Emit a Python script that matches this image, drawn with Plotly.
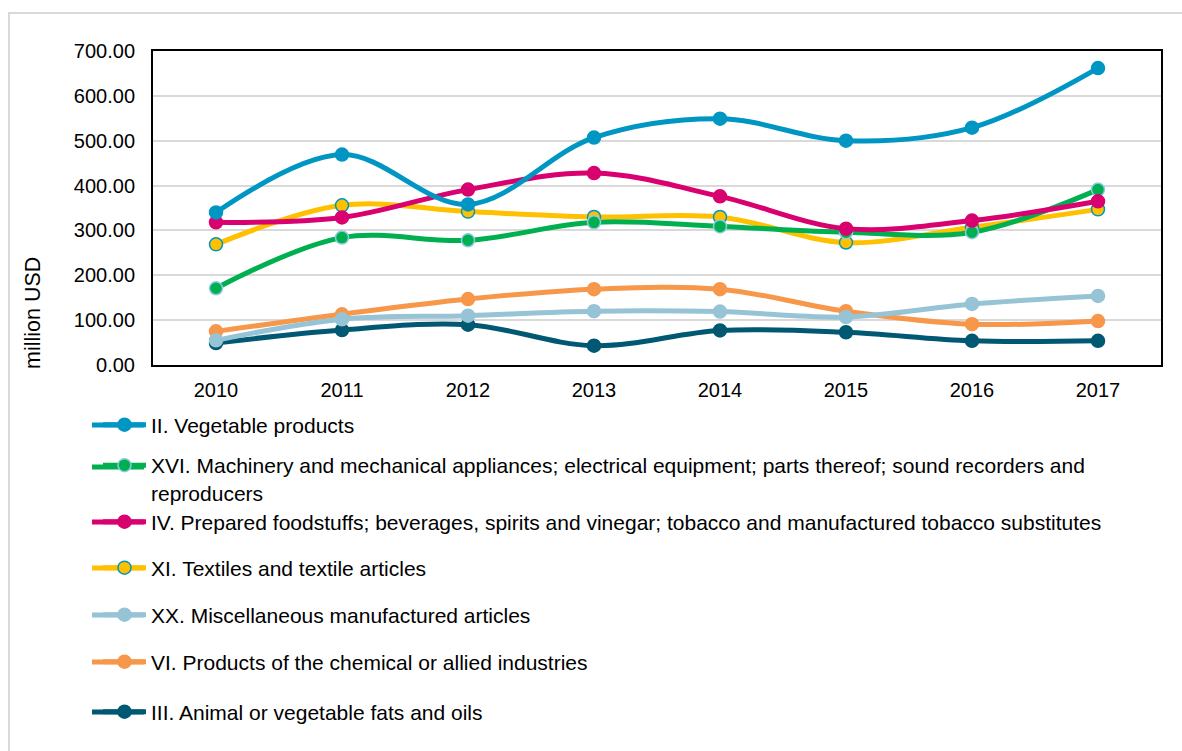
import plotly.graph_objects as go

years = ["2010", "2011", "2012", "2013", "2014", "2015", "2016", "2017"]

vegetable = [340, 469, 358, 507, 549, 500, 529, 662]
machinery = [171, 284, 278, 318, 309, 296, 296, 391]
prepared = [318, 329, 391, 428, 376, 304, 322, 365]
textiles = [269, 356, 342, 330, 330, 273, 307, 347]
misc = [55, 102, 110, 120, 119, 107, 136, 154]
chemical = [75, 113, 147, 169, 169, 120, 91, 98]
animal = [49, 78, 90, 43, 77, 73, 54, 54]

y_ticks = [0, 100, 200, 300, 400, 500, 600, 700]
y_tick_labels = ["0.00", "100.00", "200.00", "300.00", "400.00", "500.00", "600.00", "700.00"]

series = [
    ("II. Vegetable products", vegetable, "#0096C3", "#0096C3", "#0096C3"),
    ("XVI. Machinery and mechanical appliances; electrical equipment; parts thereof; sound recorders and<br>reproducers",
     machinery, "#00B050", "#00B050", "#8FC9E3"),
    ("IV. Prepared foodstuffs; beverages, spirits and vinegar; tobacco and manufactured tobacco substitutes",
     prepared, "#D9006F", "#D9006F", "#D9006F"),
    ("XI. Textiles and textile articles", textiles, "#FFC000", "#FFC000", "#0096C3"),
    ("XX. Miscellaneous manufactured articles", misc, "#97C3D6", "#97C3D6", "#97C3D6"),
    ("VI. Products of the chemical or allied industries", chemical, "#F7974A", "#F7974A", "#F7974A"),
    ("III. Animal or vegetable fats and oils", animal, "#005873", "#005873", "#005873"),
]

FONT = "Liberation Sans, Arial, sans-serif"
W, H = 1182, 751
left, right = 153, 1161
top, bottom = 51, 365
ph = bottom - top
pw = right - left

def ypaper(p):
    return (bottom - p) / ph

def xpaper(p):
    return (p - left) / pw

legend_centers = [425, 465, 522, 568, 615, 662, 712]
LEG_FONT = 21

fig = go.Figure()
draw_order = [6, 5, 4, 3, 1, 2, 0]
for i in draw_order:
    name, vals, lc, mfill, mline = series[i]
    lname = "legend" if i == 0 else f"legend{i+1}"
    fig.add_trace(go.Scatter(
        x=years, y=vals, name=name, mode="lines+markers",
        line=dict(color=lc, width=5, shape="spline", smoothing=1.0),
        marker=dict(size=13, color=mfill, line=dict(color=mline, width=1.5)),
        legend=lname,
    ))

layout_legends = {}
shapes = [dict(type="rect", xref="paper", yref="paper",
               x0=xpaper(9), x1=xpaper(1200), y0=ypaper(780), y1=ypaper(13),
               line=dict(color="#D9D9D9", width=2), fillcolor="rgba(0,0,0,0)", layer="below")]
for i in range(7):
    key = "legend" if i == 0 else f"legend{i+1}"
    c = legend_centers[i]
    common = dict(x=xpaper(98), xanchor="left", font=dict(family=FONT, size=LEG_FONT, color="#000000"),
                  bgcolor="rgba(0,0,0,0)", itemwidth=43, borderwidth=0)
    if i == 1:
        layout_legends[key] = dict(y=ypaper(c - 20), yanchor="top", valign="top", **common)
        sy = c + 2
    else:
        layout_legends[key] = dict(y=ypaper(c), yanchor="middle", **common)
        sy = c
    shapes.append(dict(type="line", xref="paper", yref="paper",
                       x0=xpaper(92), x1=xpaper(144), y0=ypaper(sy), y1=ypaper(sy),
                       line=dict(color=series[i][2], width=5)))

fig.update_layout(
    width=W, height=H,
    margin=dict(l=left, r=W - right, t=top, b=H - bottom),
    paper_bgcolor="white", plot_bgcolor="white",
    font=dict(family=FONT, size=20, color="#000000"),
    xaxis=dict(
        type="category", showgrid=False, showline=True, linecolor="#000000", linewidth=2,
        mirror=True, ticks="", tickfont=dict(family=FONT, size=20, color="#000000"),
        range=[-0.5, 7.5], ticklabelstandoff=6,
    ),
    yaxis=dict(
        range=[0, 700], tickvals=y_ticks, ticktext=y_tick_labels,
        showgrid=True, gridcolor="#D9D9D9", gridwidth=1.5,
        showline=True, linecolor="#000000", linewidth=2, mirror=True, ticks="",
        tickfont=dict(family=FONT, size=20, color="#000000"), zeroline=False,
        ticklabelstandoff=12,
    ),
    annotations=[dict(text="million USD", textangle=-90, xref="paper", yref="paper",
                      x=xpaper(33), y=ypaper(313), xanchor="center", yanchor="middle",
                      showarrow=False, font=dict(family=FONT, size=21.5, color="#000000"))],
    showlegend=True,
    shapes=shapes,
    **layout_legends,
)

fig.write_html("out.html")
